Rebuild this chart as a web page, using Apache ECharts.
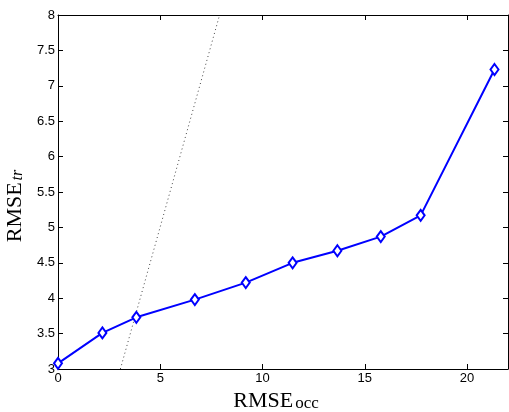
<!DOCTYPE html>
<html>
<head>
<meta charset="utf-8">
<script src="https://cdn.jsdelivr.net/npm/echarts@6/dist/echarts.min.js"></script>
<style>
  html, body { margin: 0; padding: 0; background: #fff; }
  #main { width: 509px; height: 412px; }
</style>
</head>
<body>
<div id="main"></div>
<script>
// RMSE curve
var rmseOcc = [0, 2.17, 3.83, 6.69, 9.18, 11.47, 13.66, 15.78, 17.73, 21.34];
var rmseTr  = [3.08, 3.51, 3.73, 3.98, 4.22, 4.50, 4.67, 4.87, 5.17, 7.23];
// dotted reference line
var refX = [3.05, 7.9];
var refY = [3, 8];

var xTicks = [0, 5, 10, 15, 20];
var yTicks = [3, 3.5, 4, 4.5, 5, 5.5, 6, 6.5, 7, 7.5, 8];

var curve = [];
for (var i = 0; i < rmseOcc.length; i++) {
    curve.push([rmseOcc[i], rmseTr[i]]);
}
var ref = [];
for (var j = 0; j < refX.length; j++) {
    ref.push([refX[j], refY[j]]);
}

var myChart = echarts.init(document.getElementById('main'));

var axisLine = { show: true, onZero: false, lineStyle: { color: '#000', width: 1 } };
var tickStyle = { show: true, inside: true, length: 5, lineStyle: { color: '#000', width: 1 } };
var labelFont = { color: '#000', fontSize: 13, fontFamily: 'Liberation Sans, Arial, sans-serif' };
var serif = 'Liberation Serif, Times New Roman, serif';

var option = {
    animation: false,
    grid: { left: 58, top: 15, right: 1, bottom: 43, containLabel: false, outerBoundsMode: 'none' },
    xAxis: [{
        type: 'value', min: 0, max: 22, interval: 5,
        axisLine: axisLine, axisTick: tickStyle,
        splitLine: { show: false },
        axisLabel: Object.assign({ margin: 3, showMaxLabel: false,
            formatter: function (v) { return xTicks.indexOf(v) >= 0 ? v : ''; } }, labelFont),
        name: '{a|RMSE}{b|occ}',
        nameLocation: 'middle', nameGap: 18,
        nameTextStyle: {
            padding: [0, 14, 0, 0],
            rich: {
                a: { fontFamily: serif, fontSize: 22, color: '#000', verticalAlign: 'bottom', lineHeight: 23 },
                b: { fontFamily: serif, fontSize: 17, color: '#000', verticalAlign: 'bottom', lineHeight: 19, padding: [0, 0, 0, 2] }
            }
        }
    }, {
        type: 'value', min: 0, max: 22, interval: 5, position: 'top',
        axisLine: axisLine, axisTick: tickStyle,
        axisLabel: { show: false }, splitLine: { show: false }
    }],
    yAxis: [{
        type: 'value', min: 3, max: 8, interval: 0.5,
        axisLine: axisLine, axisTick: tickStyle,
        splitLine: { show: false },
        axisLabel: Object.assign({ margin: 3,
            formatter: function (v) { return yTicks.indexOf(v) >= 0 ? String(v) : ''; } }, labelFont),
        name: '{a|RMSE}{b|tr}',
        nameLocation: 'middle', nameGap: 24, nameRotate: 90,
        nameTextStyle: {
            padding: [0, 28, 0, 0],
            rich: {
                a: { fontFamily: serif, fontSize: 22, color: '#000', verticalAlign: 'bottom', lineHeight: 23 },
                b: { fontFamily: serif, fontStyle: 'italic', fontSize: 16, color: '#000', verticalAlign: 'bottom', lineHeight: 16, padding: [0, 0, 0, 2] }
            }
        }
    }, {
        type: 'value', min: 3, max: 8, interval: 0.5, position: 'right',
        axisLine: axisLine, axisTick: tickStyle,
        axisLabel: { show: false }, splitLine: { show: false }
    }],
    series: [{
        type: 'line',
        data: ref,
        symbol: 'none',
        lineStyle: { color: '#444', width: 1, type: [1, 3] },
        silent: true
    }, {
        type: 'line',
        data: curve,
        symbol: 'diamond',
        symbolSize: [8, 11],
        showAllSymbol: true,
        lineStyle: { color: '#0000ff', width: 2 },
        itemStyle: { color: '#fff', borderColor: '#0000ff', borderWidth: 2 },
        z: 3
    }]
};
myChart.setOption(option);
</script>
</body>
</html>
